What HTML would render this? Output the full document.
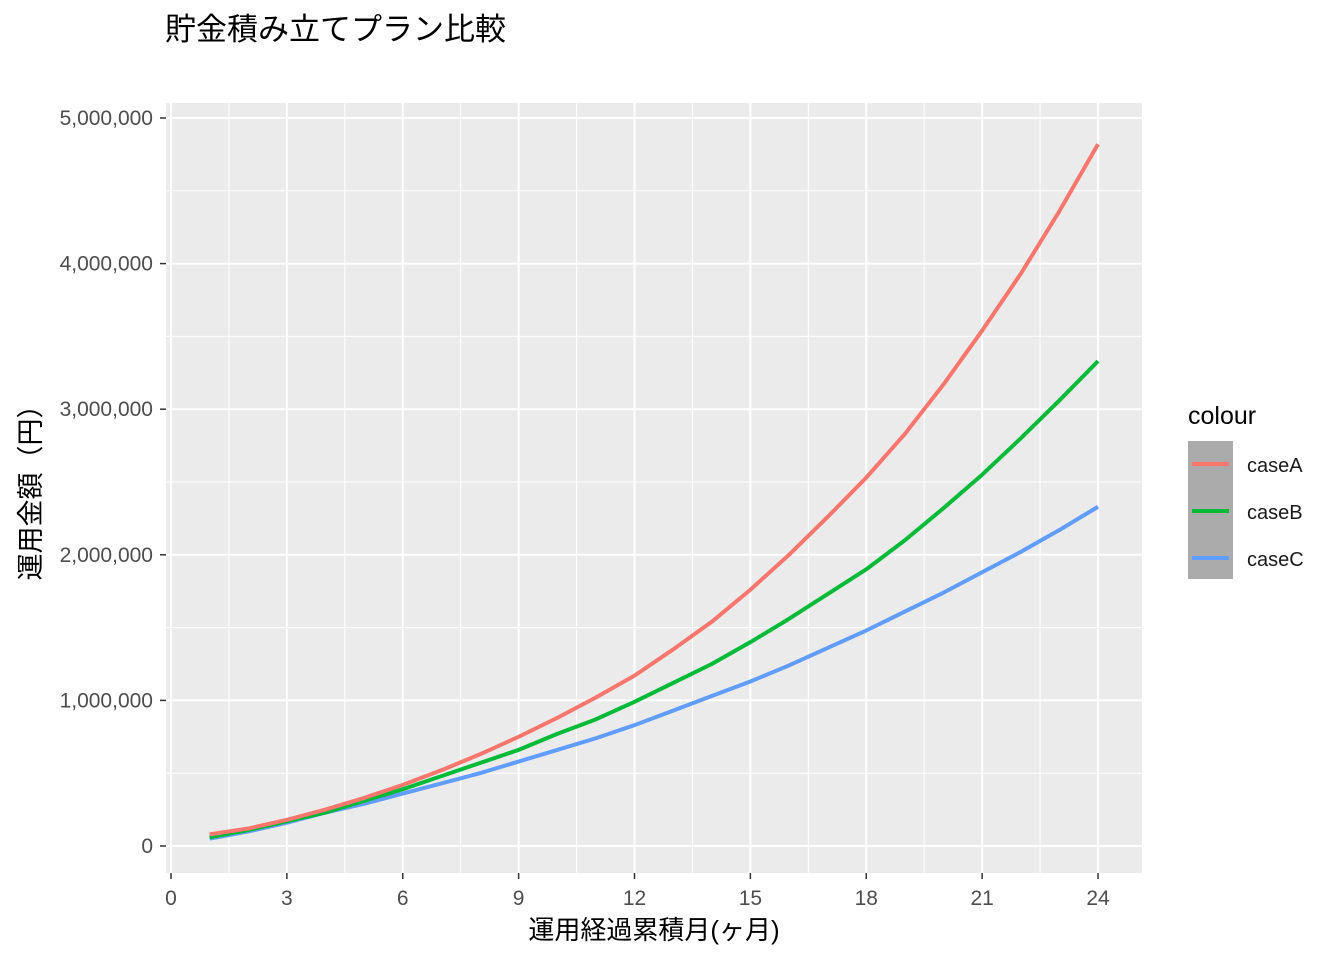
<!DOCTYPE html>
<html><head><meta charset="utf-8"><style>
body{margin:0;background:#fff;}
svg text{font-family:"Liberation Sans","Noto Sans CJK JP",sans-serif;}
</style></head><body>
<svg width="1344" height="960" viewBox="0 0 1344 960">
<text x="165" y="40" font-size="31" fill="#000">貯金積み立てプラン比較</text>
<rect x="166" y="103" width="976" height="770" fill="#ebebeb"/>
<g id="grid"></g>
<g id="lines"></g>
<g id="axes"></g>
<text x="654" y="939" font-size="26" text-anchor="middle">運用経過累積月(ヶ月)</text>
<text transform="translate(40,486) rotate(-90)" font-size="27" text-anchor="middle">運用金額（円）</text>
<g>
<text x="1188" y="424" font-size="25">colour</text>
<rect x="1188" y="441" width="45" height="138" fill="#ababab"/>
<line x1="1192" y1="464" x2="1229" y2="464" stroke="#f8766d" stroke-width="4"/>
<line x1="1192" y1="511" x2="1229" y2="511" stroke="#00ba38" stroke-width="4"/>
<line x1="1192" y1="558" x2="1229" y2="558" stroke="#619cff" stroke-width="4"/>
<text x="1247" y="472" font-size="20" fill="#1a1a1a">caseA</text>
<text x="1247" y="519" font-size="20" fill="#1a1a1a">caseB</text>
<text x="1247" y="566" font-size="20" fill="#1a1a1a">caseC</text>
</g>
</svg>
<script>
const months=[1,2,3,4,5,6,7,8,9,10,11,12,13,14,15,16,17,18,19,20,21,22,23,24];
const caseA=[0.08,0.12,0.18,0.25,0.33,0.42,0.52,0.63,0.75,0.88,1.02,1.17,1.35,1.54,1.76,2.0,2.26,2.53,2.83,3.17,3.54,3.93,4.36,4.82].map(v=>v*1e6);
const caseB=[0.06,0.11,0.17,0.23,0.31,0.39,0.48,0.57,0.66,0.77,0.87,0.99,1.12,1.25,1.40,1.56,1.73,1.90,2.10,2.32,2.55,2.80,3.06,3.33].map(v=>v*1e6);
const caseC=[0.05,0.10,0.16,0.23,0.29,0.36,0.43,0.50,0.58,0.66,0.74,0.83,0.93,1.03,1.13,1.24,1.36,1.48,1.61,1.74,1.88,2.02,2.17,2.33].map(v=>v*1e6);
const xTicks=[0,3,6,9,12,15,18,21,24];
const yTicks=[0,1000000,2000000,3000000,4000000,5000000];
const yTickLabels=["0","1,000,000","2,000,000","3,000,000","4,000,000","5,000,000"];
const NS="http://www.w3.org/2000/svg";
const xs=m=>171+m*(1098-171)/24;
const ys=v=>846-v*(846-118)/5e6;
const grid=document.getElementById('grid'),lines=document.getElementById('lines'),axes=document.getElementById('axes');
function mk(tag,attrs,parent){const e=document.createElementNS(NS,tag);for(const k in attrs)e.setAttribute(k,attrs[k]);parent.appendChild(e);return e;}
for(let i=0;i<xTicks.length-1;i++){const m=(xTicks[i]+xTicks[i+1])/2;const l=mk('line',{x1:xs(m),x2:xs(m),y1:103,y2:873,stroke:'#fff','stroke-width':1},grid);

}
for(let i=0;i<yTicks.length-1;i++){const v=(yTicks[i]+yTicks[i+1])/2;const l=mk('line',{x1:166,x2:1142,y1:ys(v),y2:ys(v),stroke:'#fff','stroke-width':1},grid);

}
xTicks.forEach(t=>{const l=mk('line',{x1:xs(t),x2:xs(t),y1:103,y2:873,stroke:'#fff','stroke-width':2},grid);


const tk=mk('line',{x1:xs(t),x2:xs(t),y1:873,y2:879,stroke:'#333','stroke-width':1.5},axes);


const tx=mk('text',{x:xs(t),y:905,'font-size':21,fill:'#4d4d4d','text-anchor':'middle'},axes);tx.textContent=t;

});
yTicks.forEach((t,i)=>{const l=mk('line',{x1:166,x2:1142,y1:ys(t),y2:ys(t),stroke:'#fff','stroke-width':2},grid);


const tk=mk('line',{x1:160,x2:166,y1:ys(t),y2:ys(t),stroke:'#333','stroke-width':1.5},axes);


const tx=mk('text',{x:153,y:ys(t)+7,'font-size':21,fill:'#4d4d4d','text-anchor':'end'},axes);tx.textContent=yTickLabels[i];

});
[[caseC,'#619cff','line-caseC'],[caseB,'#00ba38','line-caseB'],[caseA,'#f8766d','line-caseA']].forEach(([d,c,n])=>{
const p=mk('polyline',{points:months.map((m,i)=>xs(m)+','+ys(d[i])).join(' '),fill:'none',stroke:c,'stroke-width':4,'stroke-linejoin':'round'},lines);

});
</script>
</body></html>
